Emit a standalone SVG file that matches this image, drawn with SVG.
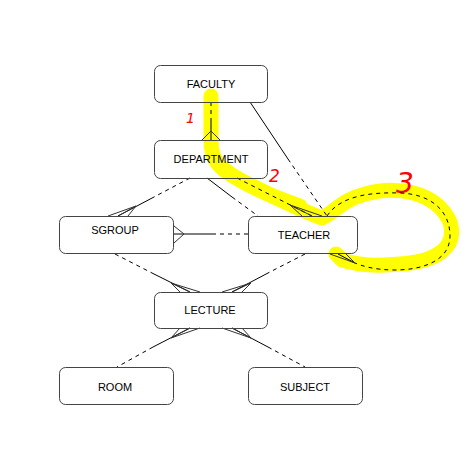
<svg xmlns="http://www.w3.org/2000/svg" width="470" height="449" viewBox="0 0 470 449">
<style>
.box{fill:none;stroke:#444;stroke-width:1}
.lbl{font-family:"Liberation Sans",Arial,sans-serif;font-size:11px;fill:#000;text-anchor:middle}
.c{fill:none;stroke:#000;stroke-width:1}
.d{fill:none;stroke:#000;stroke-width:1;stroke-dasharray:4 4}
.f{fill:none;stroke:#333;stroke-width:1}
.hl{fill:none;stroke:#ffff00;stroke-width:15;stroke-linecap:round;stroke-linejoin:round}
.num{font-family:"DejaVu Sans",sans-serif;fill:#ff0000;font-style:italic}
</style>
<rect width="470" height="449" fill="#fff"/>
<g id="highlight">
<path class="hl" d="M211,96 L211,140 C211,160 218,168 240,180 C265,192 295,208 322,218 C335,212 342,200 365,194 C395,186 435,190 450,222 C458,248 435,262 400,264 C380,266 360,266 342,260 L336,254"/>
<path class="hl" stroke-width="10" d="M222,168 C240,182 270,196 300,206"/>
</g>
<g id="annotations">
<text class="num" x="186" y="123" font-size="14">1</text>
<text class="num" x="269" y="182" font-size="17">2</text>
<text class="num" x="396" y="193" font-size="28">3</text>
</g>
<g id="connectors">
<line class="d" x1="211" y1="102" x2="211" y2="121"/>
<line class="c" x1="211" y1="121" x2="211" y2="140"/>
<polyline class="f" points="202,140 211,131 220,140"/>
<line class="c" x1="250" y1="102" x2="288" y2="159"/>
<line class="d" x1="288" y1="159" x2="327" y2="216"/>
<line class="d" x1="190" y1="178" x2="154" y2="197"/>
<line class="c" x1="154" y1="197" x2="118" y2="216"/>
<polyline class="f" points="108,216 136,206 128,216"/>
<line class="f" x1="136" y1="206" x2="118" y2="216"/>
<line class="c" x1="207" y1="178" x2="232" y2="197"/>
<line class="d" x1="232" y1="197" x2="258" y2="216"/>
<line class="d" x1="237" y1="178" x2="312" y2="216"/>
<polyline class="f" points="302,216 290,205 322,216"/>
<line class="f" x1="290" y1="205" x2="312" y2="216"/>
<line class="c" x1="174" y1="234" x2="212" y2="234"/>
<line class="d" x1="212" y1="234" x2="248" y2="234"/>
<polyline class="f" points="174,226 184,234 174,243"/>
<line class="d" x1="115" y1="254" x2="152" y2="273"/>
<line class="c" x1="152" y1="273" x2="190" y2="292"/>
<polyline class="f" points="180,292 171,283 200,292"/>
<line class="f" x1="171" y1="283" x2="190" y2="292"/>
<line class="d" x1="305" y1="254" x2="268" y2="273"/>
<line class="c" x1="268" y1="273" x2="232" y2="292"/>
<polyline class="f" points="222,292 251,283 242,292"/>
<line class="f" x1="251" y1="283" x2="232" y2="292"/>
<line class="c" x1="190" y1="328" x2="153" y2="347"/>
<line class="d" x1="153" y1="347" x2="117" y2="367"/>
<polyline class="f" points="180,328 171,338 200,328"/>
<line class="f" x1="171" y1="338" x2="190" y2="328"/>
<line class="c" x1="232" y1="328" x2="268" y2="347"/>
<line class="d" x1="268" y1="347" x2="305" y2="367"/>
<polyline class="f" points="222,328 251,338 242,328"/>
<line class="f" x1="251" y1="338" x2="232" y2="328"/>
<path class="d" d="M327,216 C340,196 370,192 400,193 C430,194 450,210 450,236 C450,262 420,270 395,270 C375,270 362,266 355,263"/>
<line class="c" x1="355" y1="263" x2="338" y2="254"/>
<polyline class="f" points="330,254 355,263 346,254"/>
</g>
<g id="FACULTY"><rect class="box" x="154.5" y="65.5" width="113" height="37" rx="6"/><text class="lbl" x="211" y="88">FACULTY</text></g>
<g id="DEPARTMENT"><rect class="box" x="154.5" y="140.5" width="113" height="38" rx="6"/><text class="lbl" x="211" y="163">DEPARTMENT</text></g>
<g id="SGROUP"><rect class="box" x="59.5" y="216.5" width="114" height="37" rx="6"/><text class="lbl" x="115" y="234">SGROUP</text></g>
<g id="TEACHER"><rect class="box" x="248.5" y="216.5" width="109" height="37" rx="6"/><text class="lbl" x="304" y="239">TEACHER</text></g>
<g id="LECTURE"><rect class="box" x="154.5" y="292.5" width="113" height="36" rx="6"/><text class="lbl" x="210" y="314">LECTURE</text></g>
<g id="ROOM"><rect class="box" x="59.5" y="367.5" width="114" height="37" rx="6"/><text class="lbl" x="115" y="391">ROOM</text></g>
<g id="SUBJECT"><rect class="box" x="248.5" y="367.5" width="114" height="37" rx="6"/><text class="lbl" x="305" y="391">SUBJECT</text></g>
</svg>
